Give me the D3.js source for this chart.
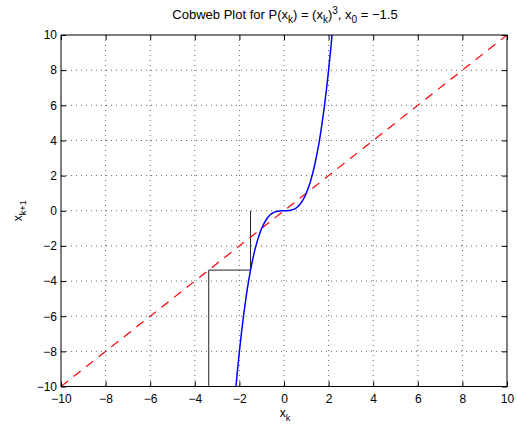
<!DOCTYPE html>
<html>
<head>
<meta charset="utf-8">
<script src="https://cdn.jsdelivr.net/npm/d3@7"></script>
<style>
  body { margin: 0; background: #fff; }
  svg { font-family: "Liberation Sans", Arial, sans-serif; }
</style>
</head>
<body>
<svg id="chart" width="517" height="424"></svg>
<script>
// sample points of P(x) = x^3
var curveX = [-2.2, -2.1, -2.0, -1.9, -1.8, -1.7, -1.6, -1.5, -1.4, -1.3, -1.2, -1.1, -1.0,
  -0.9, -0.8, -0.7, -0.6, -0.5, -0.4, -0.3, -0.2, -0.1, 0,
  0.1, 0.2, 0.3, 0.4, 0.5, 0.6, 0.7, 0.8, 0.9, 1.0, 1.1, 1.2, 1.3, 1.4, 1.5, 1.6, 1.7, 1.8, 1.9, 2.0, 2.1, 2.2];
var curveY = [-10.648, -9.261, -8, -6.859, -5.832, -4.913, -4.096, -3.375, -2.744, -2.197, -1.728, -1.331, -1,
  -0.729, -0.512, -0.343, -0.216, -0.125, -0.064, -0.027, -0.008, -0.001, 0,
  0.001, 0.008, 0.027, 0.064, 0.125, 0.216, 0.343, 0.512, 0.729, 1, 1.331, 1.728, 2.197, 2.744, 3.375, 4.096, 4.913, 5.832, 6.859, 8, 9.261, 10.648];

// diagonal y = x
var diagX = [-10, 10];
var diagY = [-10, 10];

// cobweb path
var cobX = [-1.5, -1.5, -3.375, -3.375];
var cobY = [0, -3.375, -3.375, -38.44];

var xTicks = [-10, -8, -6, -4, -2, 0, 2, 4, 6, 8, 10];
var yTicks = [-10, -8, -6, -4, -2, 0, 2, 4, 6, 8, 10];

var pLeft = 61, pRight = 507, pTop = 35, pBottom = 386.5;

var svg = d3.select("#chart");
var x = d3.scaleLinear().domain([-10, 10]).range([pLeft, pRight]);
var y = d3.scaleLinear().domain([-10, 10]).range([pBottom, pTop]);

svg.append("defs").append("clipPath").attr("id", "clip")
  .append("rect").attr("x", pLeft).attr("y", pTop)
  .attr("width", pRight - pLeft).attr("height", pBottom - pTop);

// grid
var grid = svg.append("g").attr("stroke", "#000").attr("stroke-width", 0.6)
  .attr("stroke-dasharray", "1,4");
grid.selectAll(".gx").data(xTicks.slice(1, -1)).enter().append("line")
  .attr("x1", function (d) { return x(d); }).attr("x2", function (d) { return x(d); })
  .attr("y1", pTop).attr("y2", pBottom);
grid.selectAll(".gy").data(yTicks.slice(1, -1)).enter().append("line")
  .attr("y1", function (d) { return y(d); }).attr("y2", function (d) { return y(d); })
  .attr("x1", pLeft).attr("x2", pRight);

var plot = svg.append("g").attr("clip-path", "url(#clip)");

var line = d3.line().x(function (d) { return x(d[0]); }).y(function (d) { return y(d[1]); });

plot.append("path")
  .attr("d", line(d3.zip(cobX, cobY)))
  .attr("fill", "none").attr("stroke", "#222").attr("stroke-width", 1);

plot.append("path")
  .attr("d", line(d3.zip(diagX, diagY)))
  .attr("fill", "none").attr("stroke", "#ff0000").attr("stroke-width", 1.2)
  .attr("stroke-dasharray", "9,7");

plot.append("path")
  .attr("d", line.curve(d3.curveMonotoneX)(d3.zip(curveX, curveY)))
  .attr("fill", "none").attr("stroke", "#0000ff").attr("stroke-width", 1.5);

// axes with inward ticks on all four sides
var fmt = function (d) { return d < 0 ? "\u2212" + Math.abs(d) : String(d); };
var ax = svg.append("g");

ax.append("g").attr("transform", "translate(0," + pBottom + ")")
  .call(d3.axisBottom(x).tickValues(xTicks).tickSizeInner(-5).tickSizeOuter(0).tickPadding(8).tickFormat(fmt));
ax.append("g").attr("transform", "translate(0," + pTop + ")")
  .call(d3.axisTop(x).tickValues(xTicks).tickSizeInner(-5).tickSizeOuter(0).tickFormat(""));
ax.append("g").attr("transform", "translate(" + pLeft + ",0)")
  .call(d3.axisLeft(y).tickValues(yTicks).tickSizeInner(-5).tickSizeOuter(0).tickPadding(4).tickFormat(fmt));
ax.append("g").attr("transform", "translate(" + pRight + ",0)")
  .call(d3.axisRight(y).tickValues(yTicks).tickSizeInner(-5).tickSizeOuter(0).tickFormat(""));

ax.selectAll("text").attr("fill", "#000").attr("font-family", "Liberation Sans, Arial, sans-serif").attr("font-size", 12);
ax.selectAll(".domain").remove();

svg.append("rect").attr("x", pLeft).attr("y", pTop)
  .attr("width", pRight - pLeft).attr("height", pBottom - pTop)
  .attr("fill", "none").attr("stroke", "#000").attr("stroke-width", 1);

// title
var title = svg.append("text").attr("x", 285).attr("y", 19)
  .attr("text-anchor", "middle").attr("font-size", 13);
title.append("tspan").text("Cobweb Plot for P(x");
title.append("tspan").attr("font-size", 10).attr("dy", 4).text("k");
title.append("tspan").attr("dy", -4).text(") = (x");
title.append("tspan").attr("font-size", 10).attr("dy", 4).text("k");
title.append("tspan").attr("dy", -4).text(")");
title.append("tspan").attr("font-size", 10).attr("dy", -5).text("3");
title.append("tspan").attr("dy", 5).text(", x");
title.append("tspan").attr("font-size", 10).attr("dy", 4).text("0");
title.append("tspan").attr("dy", -4).text(" = \u22121.5");

// x label
var xl = svg.append("text").attr("x", 285).attr("y", 417)
  .attr("text-anchor", "middle").attr("font-size", 12);
xl.append("tspan").text("x");
xl.append("tspan").attr("font-size", 9).attr("dy", 4).text("k");

// y label
var yl = svg.append("text").attr("transform", "translate(22," + (pTop + pBottom) / 2 + ") rotate(-90)")
  .attr("text-anchor", "middle").attr("font-size", 12);
yl.append("tspan").text("x");
yl.append("tspan").attr("font-size", 9).attr("dy", 4).text("k+1");
</script>
</body>
</html>
